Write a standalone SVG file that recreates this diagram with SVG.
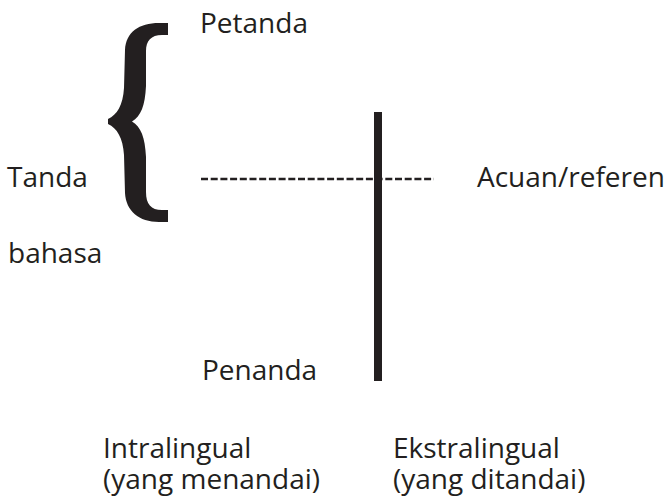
<svg xmlns="http://www.w3.org/2000/svg" width="668" height="501" viewBox="0 0 668 501">
<style>
text{font-family:"Open Sans","Noto Sans","Liberation Sans",sans-serif;font-size:28px;fill:#231f20}
.ink{fill:#231f20}
.dash{stroke:#231f20;stroke-width:2.3;stroke-dasharray:7 2.7;fill:none}
</style>
<rect width="668" height="501" fill="#ffffff"/>
<g id="brace">
<path class="ink" d="M168,23 L159,23 C139,23 126,32 125,50 L124,88 C123,105 117,115 108,119 L108,124 C117,128 123,138 124,155 L125,193 C126,211 139,222 159,222 L168,222 L168,210 L162,210 C151,210 146,204 146,192 L146,157 C145,137 141,127 132,121.5 C141,116 145,106 146,86 L146,51 C146,41 151,35 162,35 L168,35 Z"/>
</g>
<g id="connectors">
<line class="dash" x1="201" y1="179" x2="434" y2="179"/>
<rect class="ink" x="374" y="112" width="8" height="269"/>
</g>
<g id="petanda"><text x="200" y="33">Petanda</text></g>
<g id="tanda"><text x="7" y="187">Tanda</text></g>
<g id="bahasa"><text x="8" y="263">bahasa</text></g>
<g id="acuan"><text x="477" y="187">Acuan/referen</text></g>
<g id="penanda"><text x="202" y="380">Penanda</text></g>
<g id="intralingual"><text x="103" y="458">Intralingual<tspan x="103" dy="31">(yang menandai)</tspan></text></g>
<g id="ekstralingual"><text x="393" y="458">Ekstralingual<tspan x="393" dy="31">(yang ditandai)</tspan></text></g>
</svg>
